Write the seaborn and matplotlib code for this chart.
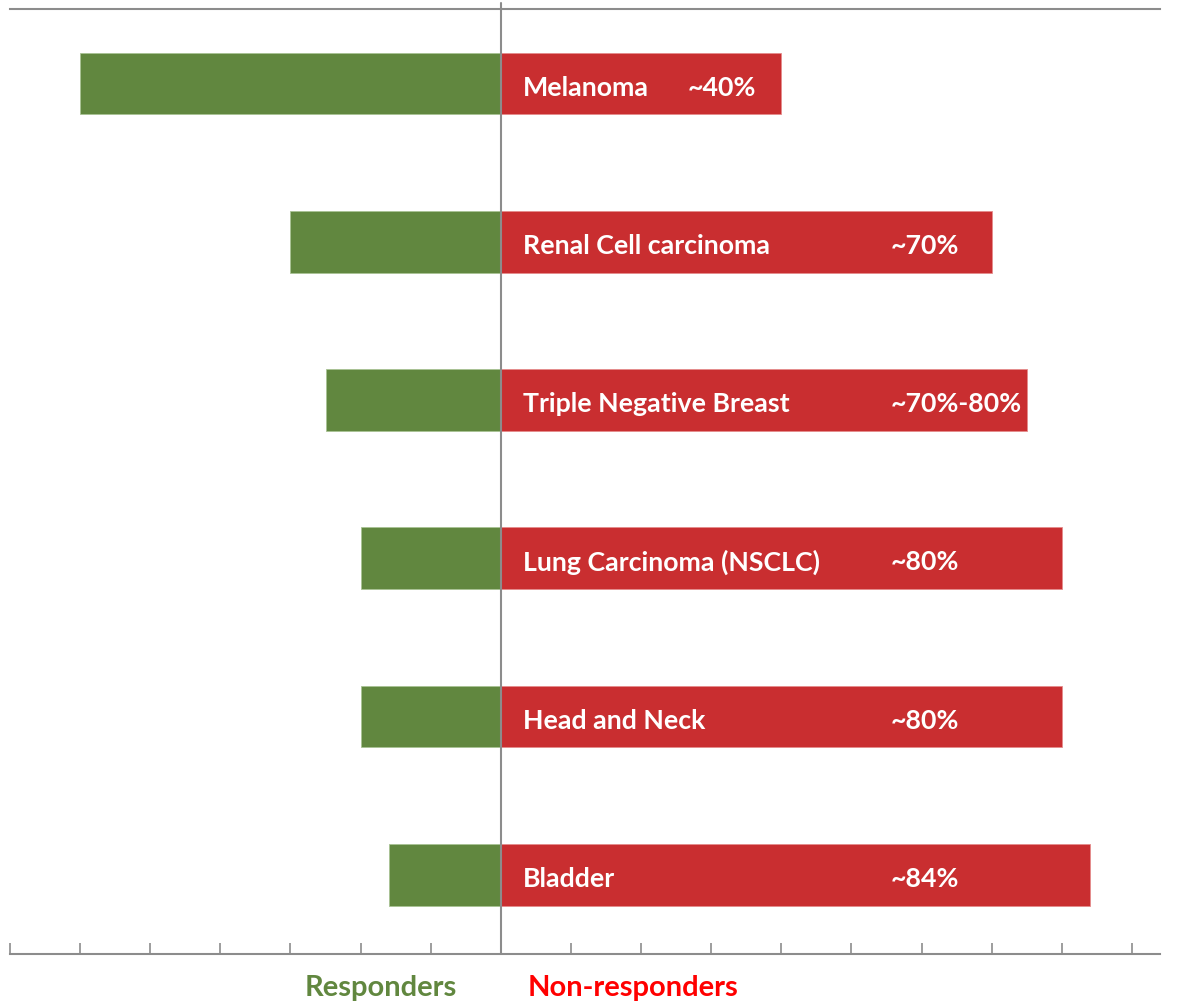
import matplotlib
matplotlib.use("Agg")
import matplotlib.pyplot as plt
import seaborn as sns
import pandas as pd

# values (% of patients)
cancers = ["Melanoma", "Renal Cell carcinoma", "Triple Negative Breast",
           "Lung Carcinoma (NSCLC)", "Head and Neck", "Bladder"]
responders = [60, 30, 25, 20, 20, 16]
non_responders = [40, 70, 75, 80, 80, 84]
pct_labels = ["~40%", "~70%", "~70%-80%", "~80%", "~80%", "~84%"]

GREEN = "#61873F"
RED = "#C92E30"
GRAY = "#8C8C8C"

df = pd.DataFrame({
    "cancer": cancers,
    "resp": [-v for v in responders],
    "nonresp": non_responders,
})

sns.set_theme(style="white")
plt.rcParams["font.family"] = ["Lato", "DejaVu Sans"]

fig = plt.figure(figsize=(11.88, 10.04), dpi=100)
ax = fig.add_axes([10 / 1188, 1 - 955 / 1004, 1150 / 1188, 945 / 1004])

sns.barplot(data=df, y="cancer", x="resp", orient="h", color=GREEN,
            width=0.39, saturation=1, edgecolor="#A9C294", linewidth=0.6, ax=ax)
sns.barplot(data=df, y="cancer", x="nonresp", orient="h", color=RED,
            width=0.39, saturation=1, edgecolor="#E58C8C", linewidth=0.6, ax=ax)

ax.set_xlim(-70, 94)
ax.set_ylim(5.5, -0.47)
ax.axvline(0, color=GRAY, lw=1.5, ymin=0, ymax=1.006, clip_on=False, zorder=5)

# labels inside the red bars
for i, (name, pct) in enumerate(zip(cancers, pct_labels)):
    ax.text(3.2, i + 0.02, name, color="white", fontsize=19.3, fontweight="bold",
            va="center", ha="left")
    px = 26.7 if i == 0 else 55.6
    ax.text(px, i + 0.02, pct, color="white", fontsize=19.3, fontweight="bold",
            va="center", ha="left")

ax.set_xticks(range(-70, 91, 10))
ax.set_xticklabels([])
ax.set_yticks([])
ax.set_xlabel("")
ax.set_ylabel("")
ax.tick_params(axis="x", direction="in", length=8, width=1.2, color=GRAY,
               bottom=True)
for side in ["left", "right"]:
    ax.spines[side].set_visible(False)
for side in ["top", "bottom"]:
    ax.spines[side].set_color(GRAY)
    ax.spines[side].set_linewidth(1.5)

fig.text(381 / 1188, 1 - 988 / 1004, "Responders", color=GREEN, fontsize=21,
         fontweight="bold", ha="center", va="center")
fig.text(633 / 1188, 1 - 988 / 1004, "Non-responders", color="#FF0000",
         fontsize=21, fontweight="bold", ha="center", va="center")

fig.savefig("out.png", dpi=100)
